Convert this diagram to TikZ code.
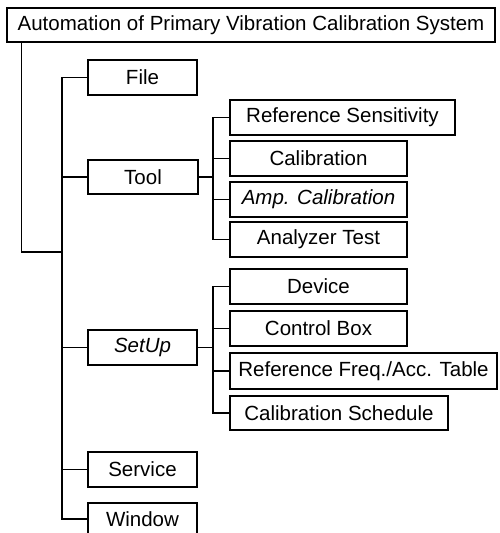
\documentclass[tikz,border=0pt]{standalone}
\usepackage{fontspec}
\setmainfont{Liberation Sans}
\begin{document}
\begin{tikzpicture}[x=1pt,y=-1pt,
  box/.style={draw,line width=1.2pt,inner sep=0pt,font=\fontsize{20.5}{24}\selectfont},
  conn/.style={line width=1.2pt}]
\useasboundingbox (0,0) rectangle (499,533);
\newcommand{\bx}[6]{\node[box,minimum width={#3-#2},minimum height={#5-#4}] (#1) at ({(#2+#3)/2},{(#4+#5)/2}) {#6};}
\bx{title}{7}{495}{8}{42}{Automation of Primary Vibration Calibration System}
\bx{file}{88}{197}{60}{95}{File}
\bx{tool}{88}{198}{160}{194}{Tool}
\bx{refs}{230}{455}{100}{135}{Reference Sensitivity}
\bx{cal}{230}{407}{141}{176}{Calibration}
\bx{amp}{230}{407}{182}{217}{\itshape Amp. Calibration}
\bx{ana}{230}{407}{222}{257}{Analyzer Test}
\bx{dev}{230}{407}{269}{304}{Device}
\bx{ctl}{230}{407}{311}{346}{Control Box}
\bx{setup}{88}{197}{330}{365}{\itshape SetUp}
\bx{rft}{230}{497}{353}{389}{Reference Freq./Acc. Table}
\bx{cs}{230}{448}{396}{430}{Calibration Schedule}
\bx{serv}{88}{197}{452}{487}{Service}
\bx{win}{88}{197}{503}{535}{Window}
\coordinate (tx) at (21.5,252);
\coordinate (mx) at (62,0);
\coordinate (sx) at (213,0);
% title to main trunk
\draw[conn] (title.south -| tx) -- (tx) -- (tx -| mx);
% main trunk
\draw[conn] (file.west) -- (file.west -| mx) -- (win.west -| mx) -- (win.west);
\foreach \n in {tool,setup,serv} \draw[conn] (\n.west) -- (\n.west -| mx);
% tool subtree
\draw[conn] (tool.east) -- (tool.east -| sx);
\draw[conn] (refs.west) -- (refs.west -| sx) -- (ana.west -| sx) -- (ana.west);
\foreach \n in {cal,amp} \draw[conn] (\n.west) -- (\n.west -| sx);
% setup subtree
\draw[conn] (setup.east) -- (setup.east -| sx);
\draw[conn] (dev.west) -- (dev.west -| sx) -- (cs.west -| sx) -- (cs.west);
\foreach \n in {ctl,rft} \draw[conn] (\n.west) -- (\n.west -| sx);
\end{tikzpicture}
\end{document}
